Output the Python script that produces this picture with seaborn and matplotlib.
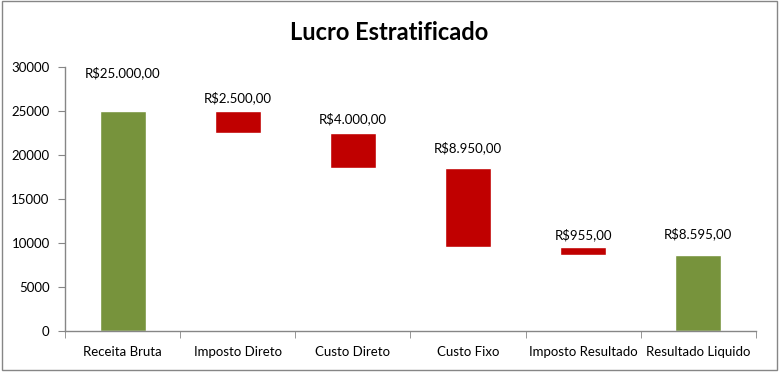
import matplotlib
matplotlib.use("Agg")
import matplotlib.pyplot as plt
from matplotlib.patches import Rectangle
import pandas as pd
import seaborn as sns

categories = ["Receita Bruta", "Imposto Direto", "Custo Direto", "Custo Fixo",
              "Imposto Resultado", "Resultado Liquido"]
values = [25000, 2500, 4000, 8950, 955, 8595]
kinds = ["total", "neg", "neg", "neg", "neg", "total"]
value_labels = ["R$25.000,00", "R$2.500,00", "R$4.000,00", "R$8.950,00",
                "R$955,00", "R$8.595,00"]
y_ticks = [0, 5000, 10000, 15000, 20000, 25000, 30000]

# label gap above bar top (data units), as in the original layout
label_gap = [4300, 1500, 1600, 2300, 1350, 2450]

GREEN = "#77933C"
RED = "#C00000"
AXIS_GRAY = "#868686"

# waterfall bottoms from running total
bottoms = []
running = 0
for v, k in zip(values, kinds):
    if k == "total":
        bottoms.append(0)
        running = v
    else:
        running -= v
        bottoms.append(running)
colors = [GREEN if k == "total" else RED for k in kinds]

df = pd.DataFrame({"categoria": categories, "valor": values})

sns.set_style("white")
plt.rcParams["font.family"] = ["Lato", "DejaVu Sans"]

fig = plt.figure(figsize=(7.79, 3.74), dpi=100)
ax = fig.add_axes([0.0834, 0.115, 0.887, 0.706])

sns.barplot(data=df, x="categoria", y="valor", hue="categoria",
            palette=colors, legend=False, width=0.4, saturation=1, ax=ax)

for patch, b in zip(ax.patches, bottoms):
    patch.set_y(b)

for i, (b, v, lab, gap) in enumerate(zip(bottoms, values, value_labels, label_gap)):
    ax.text(i, b + v + gap, lab, ha="center", va="center", fontsize=9.5,
            color="black")

ax.set_xlim(-0.5, len(categories) - 0.5)
ax.set_ylim(0, 30000)
ax.set_yticks(y_ticks)
ax.set_xlabel("")
ax.set_ylabel("")

ax.set_xticks(range(len(categories)))
ax.set_xticklabels(categories)
ax.set_xticks([i - 0.5 for i in range(len(categories) + 1)], minor=True)
ax.tick_params(axis="x", which="major", length=0, pad=11, labelsize=9.5,
               colors="black")
ax.tick_params(axis="x", which="minor", length=5, color=AXIS_GRAY,
               direction="out", bottom=True)
ax.tick_params(axis="y", length=5, color=AXIS_GRAY, direction="out", left=True,
               labelsize=9.5, labelcolor="black", pad=6)

sns.despine(ax=ax)
for side in ["left", "bottom"]:
    ax.spines[side].set_color(AXIS_GRAY)
    ax.spines[side].set_linewidth(1)

fig.text(0.5, 0.912, "Lucro Estratificado", ha="center", va="center",
         fontsize=17, fontweight="bold", color="black")

fig.patches.append(Rectangle((0.003, 0.012), 0.994, 0.984,
                             transform=fig.transFigure, fill=False,
                             edgecolor=AXIS_GRAY, linewidth=1))

fig.savefig("out.png", dpi=100)
